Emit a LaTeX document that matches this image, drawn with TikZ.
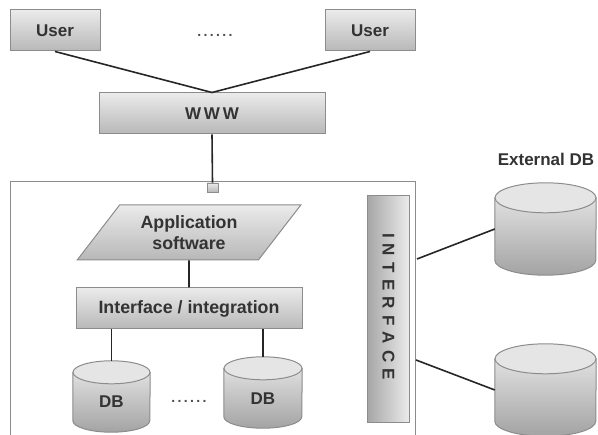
\documentclass[tikz,border=0pt]{standalone}
\usepackage{fontspec}
\setmainfont{Liberation Sans}
\usetikzlibrary{calc,shapes.geometric}
\definecolor{edgegray}{gray}{0.55}
\definecolor{textgray}{gray}{0.2}
\tikzset{
    boxshade/.style={draw=edgegray, line width=1pt, top color=black!8, bottom color=black!28, text=textgray, font=\fontsize{17}{20}\selectfont\bfseries, inner sep=0pt, align=center},
    stackshade/.style={boxshade, font=\fontsize{17.8}{21}\selectfont\bfseries},
    dbbody/.style={draw=edgegray, line width=1pt, top color=black!12, bottom color=black!36},
    dbtop/.style={draw=edgegray, line width=1pt, fill=black!10},
    dbtext/.style={text=textgray, font=\fontsize{17}{20}\selectfont\bfseries},
    dotstext/.style={text=black!70, font=\fontsize{14}{15}\selectfont\bfseries},
    wire/.style={line width=1.6pt, black!85}
}
% cylinder drawn inside a named node: name, x radius, y radius
\newcommand{\dbdraw}[3]{
    \draw[dbbody] ($(#1.north west)+(0,#3)$) -- ($(#1.south west)+(0,-#3)$)
        arc[start angle=180, end angle=0, x radius=#2, y radius=#3]
        -- ($(#1.north east)+(0,#3)$) -- cycle;
    \path[dbtop] ($(#1.north)+(0,#3)$) ellipse (#2 and #3);
}
\begin{document}
\begin{tikzpicture}[x=1pt,y=-1pt]
        \useasboundingbox (0,0) rectangle (598,435);

        % Draw the outer frame
        \node[draw=edgegray, line width=1pt, minimum width=405pt, minimum height=270pt] (frame) at (212.5,317) {};

        % Draw the users and the web
        \node[boxshade, minimum width=90pt, minimum height=41pt] (user1) at (55,30.5) {User};
        \node[boxshade, minimum width=90pt, minimum height=41pt] (user2) at (370,30.5) {User};
        \node[dotstext] (dots1) at (215,35) {.\,.\,.\,.\,.\,.};
        \node[boxshade, minimum width=226pt, minimum height=41pt] (www) at (212,113.5) {W\,W\,W};
        \node[boxshade, line width=.8pt, minimum width=11pt, minimum height=9pt] (port) at (212.5,187.5) {};
        \draw[wire] (user1.south) -- (www.north);
        \draw[wire] (user2.south) -- (www.north);
        \draw[wire] (www.south) -- (port.north);

        % Draw the application stack
        \node[stackshade, trapezium, trapezium left angle=49, trapezium right angle=131, minimum width=224pt, minimum height=55pt, trapezium stretches=true] (app) at (189,232.5) {Application\\software};
        \node[stackshade, minimum width=226pt, minimum height=41pt] (iface) at (189,308.5) {Interface / integration};
        \draw[wire] (app.south) -- (iface.north);

        % Draw the local databases
        \node[minimum width=77pt, minimum height=71pt, inner sep=0pt] (db1) at (111.5,396.5) {};
        \node[minimum width=78pt, minimum height=71pt, inner sep=0pt] (db2) at (263,392.5) {};
        \dbdraw{db1}{38.5}{11.5}
        \dbdraw{db2}{39}{11.5}
        \node[dbtext] (db1label) at (111.5,402) {DB};
        \node[dbtext] (db2label) at (263,398.5) {DB};
        \node[dotstext] (dots2) at (189,401) {.\,.\,.\,.\,.\,.};
        \draw[wire] (iface.south -| db1.north) -- (db1.north);
        \draw[wire] (iface.south -| db2.north) -- (db2.north);

        % Draw the vertical interface bar
        \node[draw=edgegray, line width=1pt, left color=black!35, right color=black!8, minimum width=42pt, minimum height=227pt] (bar) at (388,309.5) {};
        \node[rotate=-90, text=textgray, font=\fontsize{17}{19}\selectfont\bfseries] (barlabel) at (388.5,306.5) {I\hspace{6.2pt}N\hspace{6.2pt}T\hspace{6.2pt}E\hspace{6.2pt}R\hspace{6.2pt}F\hspace{6.2pt}A\hspace{6.2pt}C\hspace{6.2pt}E};

        % Draw the external databases
        \node[dbtext] (extlabel) at (546,159) {External DB};
        \node[minimum width=101pt, minimum height=92pt, inner sep=0pt] (ext1) at (545.5,229) {};
        \node[minimum width=101pt, minimum height=92pt, inner sep=0pt] (ext2) at (545.5,390) {};
        \dbdraw{ext1}{50.5}{15}
        \dbdraw{ext2}{50.5}{15}
        \coordinate (link1) at (417,259);
        \coordinate (link2) at (416,360);
        \draw[wire] (link1) -- (ext1.west);
        \draw[wire] (link2) -- (ext2.west);

\end{tikzpicture}
\end{document}
